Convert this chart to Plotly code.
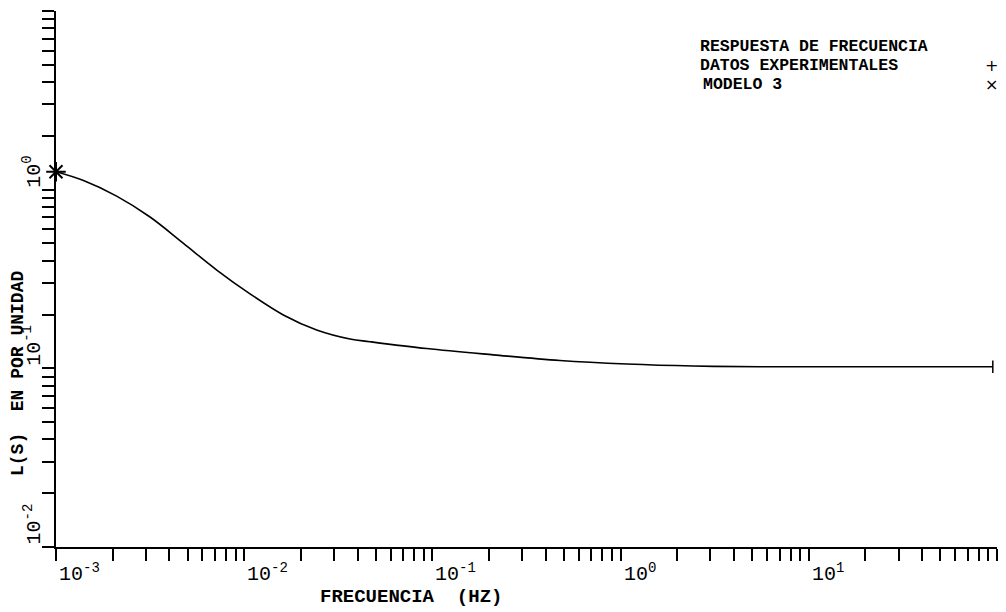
import plotly.graph_objects as go

# ---- data ----
freq_hz = [0.001, 0.00140, 0.00210, 0.00316, 0.00474, 0.00715, 0.01074, 0.01614,
           0.02427, 0.03648, 0.04656, 0.0933, 0.211, 0.476, 1.08, 2.43, 5.51, 95.0]
l_s = [1.26, 1.125, 0.920, 0.703, 0.502, 0.355, 0.261, 0.199,
       0.164, 0.146, 0.141, 0.129, 0.119, 0.1106, 0.1057, 0.1030, 0.1020, 0.1020]

exp_freq = [0.001, 95.0]
exp_vals = [1.26, 0.102]
model_freq = [0.001]
model_vals = [1.26]

x_major_exp = [-3, -2, -1, 0, 1]
y_major_exp = [-2, -1, 0]
legend_lines = ["RESPUESTA DE FRECUENCIA", "DATOS EXPERIMENTALES", "MODELO 3"]
legend_symbols = ["+", "\u00d7"]

# ---- layout geometry (pixels) ----
W, H = 1006, 612
L, R, T, B = 56, 9, 11, 65
PW, PH = W - L - R, H - T - B


def px(xp):
    return (xp - L) / PW


def py(yp):
    return (H - B - yp) / PH


x_ticks = [m * 10.0 ** e for e in range(-3, 2) for m in range(1, 10)] + [100.0]
y_ticks = [m * 10.0 ** e for e in range(-2, 1) for m in range(1, 10)] + [10.0]

MONO = "Liberation Mono"

fig = go.Figure()
fig.add_trace(go.Scatter(x=freq_hz, y=l_s, mode="lines",
                         line=dict(color="black", width=1.6, shape="spline", smoothing=1.0),
                         showlegend=False, hoverinfo="skip"))
fig.add_trace(go.Scatter(x=exp_freq[:1], y=exp_vals[:1], mode="markers", cliponaxis=False,
                         marker=dict(symbol="cross-thin", size=14, line=dict(color="black", width=2)),
                         showlegend=False))
fig.add_trace(go.Scatter(x=exp_freq[1:], y=exp_vals[1:], mode="markers", cliponaxis=False,
                         marker=dict(symbol="line-ns", size=9, line=dict(color="black", width=1.5)),
                         showlegend=False))
fig.add_trace(go.Scatter(x=model_freq, y=model_vals, mode="markers", cliponaxis=False,
                         marker=dict(symbol="x-thin", size=13, line=dict(color="black", width=2)),
                         showlegend=False))

ann = []
for e in x_major_exp:
    ann.append(dict(x=e, xref="x", y=0, yref="paper", text=f"10<sup>{e}</sup>", showarrow=False,
                    xanchor="left", yanchor="top", yshift=-13, xshift=1, height=22,
                    font=dict(family=MONO, size=20, color="black")))
for e in y_major_exp:
    ann.append(dict(x=0, xref="paper", y=e, yref="y", text=f"10<sup>{e}</sup>", showarrow=False,
                    textangle=-90, xanchor="right", yanchor="bottom", xshift=-9, yshift=0,
                    font=dict(family=MONO, size=20, color="black")))

# axis titles
ann.append(dict(x=px(411), xref="paper", y=py(597), yref="paper", text="FRECUENCIA\u00a0\u00a0(HZ)",
                showarrow=False, xanchor="center", yanchor="middle", height=18,
                font=dict(family=MONO, size=19, color="black", weight="bold")))
ann.append(dict(x=px(18), xref="paper", y=py(374), yref="paper", text="L(S)\u00a0\u00a0EN POR UNIDAD",
                showarrow=False, textangle=-90, xanchor="center", yanchor="middle",
                font=dict(family=MONO, size=18, color="black", weight="bold")))

# legend block
leg_y = [46, 65, 84]
leg_x = [698, 698, 701]
for txt, xx, yy in zip(legend_lines, leg_x, leg_y):
    ann.append(dict(x=px(xx), xref="paper", y=py(yy), yref="paper", text=txt, showarrow=False,
                    xanchor="left", yanchor="middle", height=16, valign="middle",
                    font=dict(family=MONO, size=16.5, color="black", weight="bold")))
for sym, yy in zip(legend_symbols, leg_y[1:]):
    ann.append(dict(x=px(991), xref="paper", y=py(yy), yref="paper", text=sym, showarrow=False,
                    xanchor="center", yanchor="middle", height=16, valign="middle",
                    font=dict(family="DejaVu Sans", size=16, color="black")))

fig.update_layout(
    width=W, height=H,
    margin=dict(l=L, r=R, t=T, b=B, pad=0),
    paper_bgcolor="white", plot_bgcolor="white",
    annotations=ann,
    xaxis=dict(type="log", range=[-3, 2], tickmode="array", tickvals=x_ticks, showticklabels=False,
               ticks="outside", ticklen=12, tickwidth=2, tickcolor="black",
               showline=True, linecolor="black", linewidth=2, showgrid=False, zeroline=False,
               mirror=False),
    yaxis=dict(type="log", range=[-2, 1], tickmode="array", tickvals=y_ticks, showticklabels=False,
               ticks="outside", ticklen=12, tickwidth=2, tickcolor="black",
               showline=True, linecolor="black", linewidth=2, showgrid=False, zeroline=False,
               mirror=False),
    showlegend=False,
)

fig.write_html("out.html")
